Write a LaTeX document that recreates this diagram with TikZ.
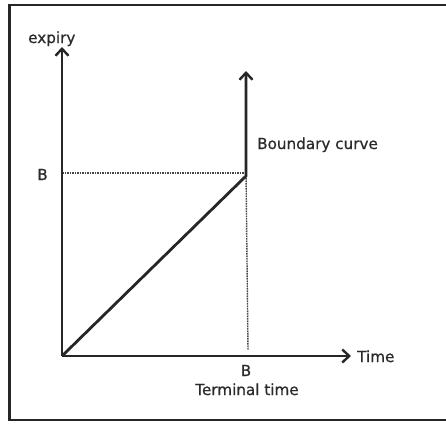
\documentclass[tikz,border=0pt]{standalone}
\usepackage{fontspec}
\setmainfont{DejaVu Sans}[FakeBold=0.7]
\usetikzlibrary{arrows.meta}
\definecolor{ink}{HTML}{262626}
\definecolor{txt}{HTML}{2A2A2A}
\begin{document}
\begin{tikzpicture}[x=1pt,y=-1pt,
  axis/.style={draw=ink,line width=2.8pt,-{Straight Barb[length=7pt,width=13pt,line width=2.4pt]}},
  guide/.style={draw=ink!85,line width=1.4pt,dash pattern=on 1.6pt off 0.9pt},
  lbl/.style={inner sep=0pt,text=txt,font=\fontsize{15.2}{17}\selectfont}]
\useasboundingbox (0,0) rectangle (446,423);
\draw[ink,line width=2.4pt] (460,420) -- (9.5,420) -- (9.5,5) -- (460,5);
\coordinate (O) at (62,356);
\coordinate (ytop) at (62,47);
\coordinate (xend) at (351,356);
\coordinate (K) at (246,176);
\coordinate (btop) at (246,71);
\coordinate (By) at (62,173);
\coordinate (Kt) at (246,173);
\coordinate (Bx) at (248,350);
\draw[guide] (By) -- (Kt);
\draw[guide] (Kt) -- (Bx);
\draw[axis] (O) -- (ytop);
\draw[axis] (O) -- (xend);
\draw[axis,line join=miter] (O) -- (K) -- (btop);
\node[lbl,anchor=base west] (expiry) at (28,43) {expiry};
\node[lbl,anchor=base] (By label) at (42.5,180) {B};
\node[lbl,anchor=base west] (bc) at (257,149) {Boundary curve};
\node[lbl,anchor=base west] (time) at (357,362) {Time};
\node[lbl,anchor=base] (Bx label) at (246,376) {B};
\node[lbl,anchor=base] (tt) at (247,395) {Terminal time};
\end{tikzpicture}
\end{document}
